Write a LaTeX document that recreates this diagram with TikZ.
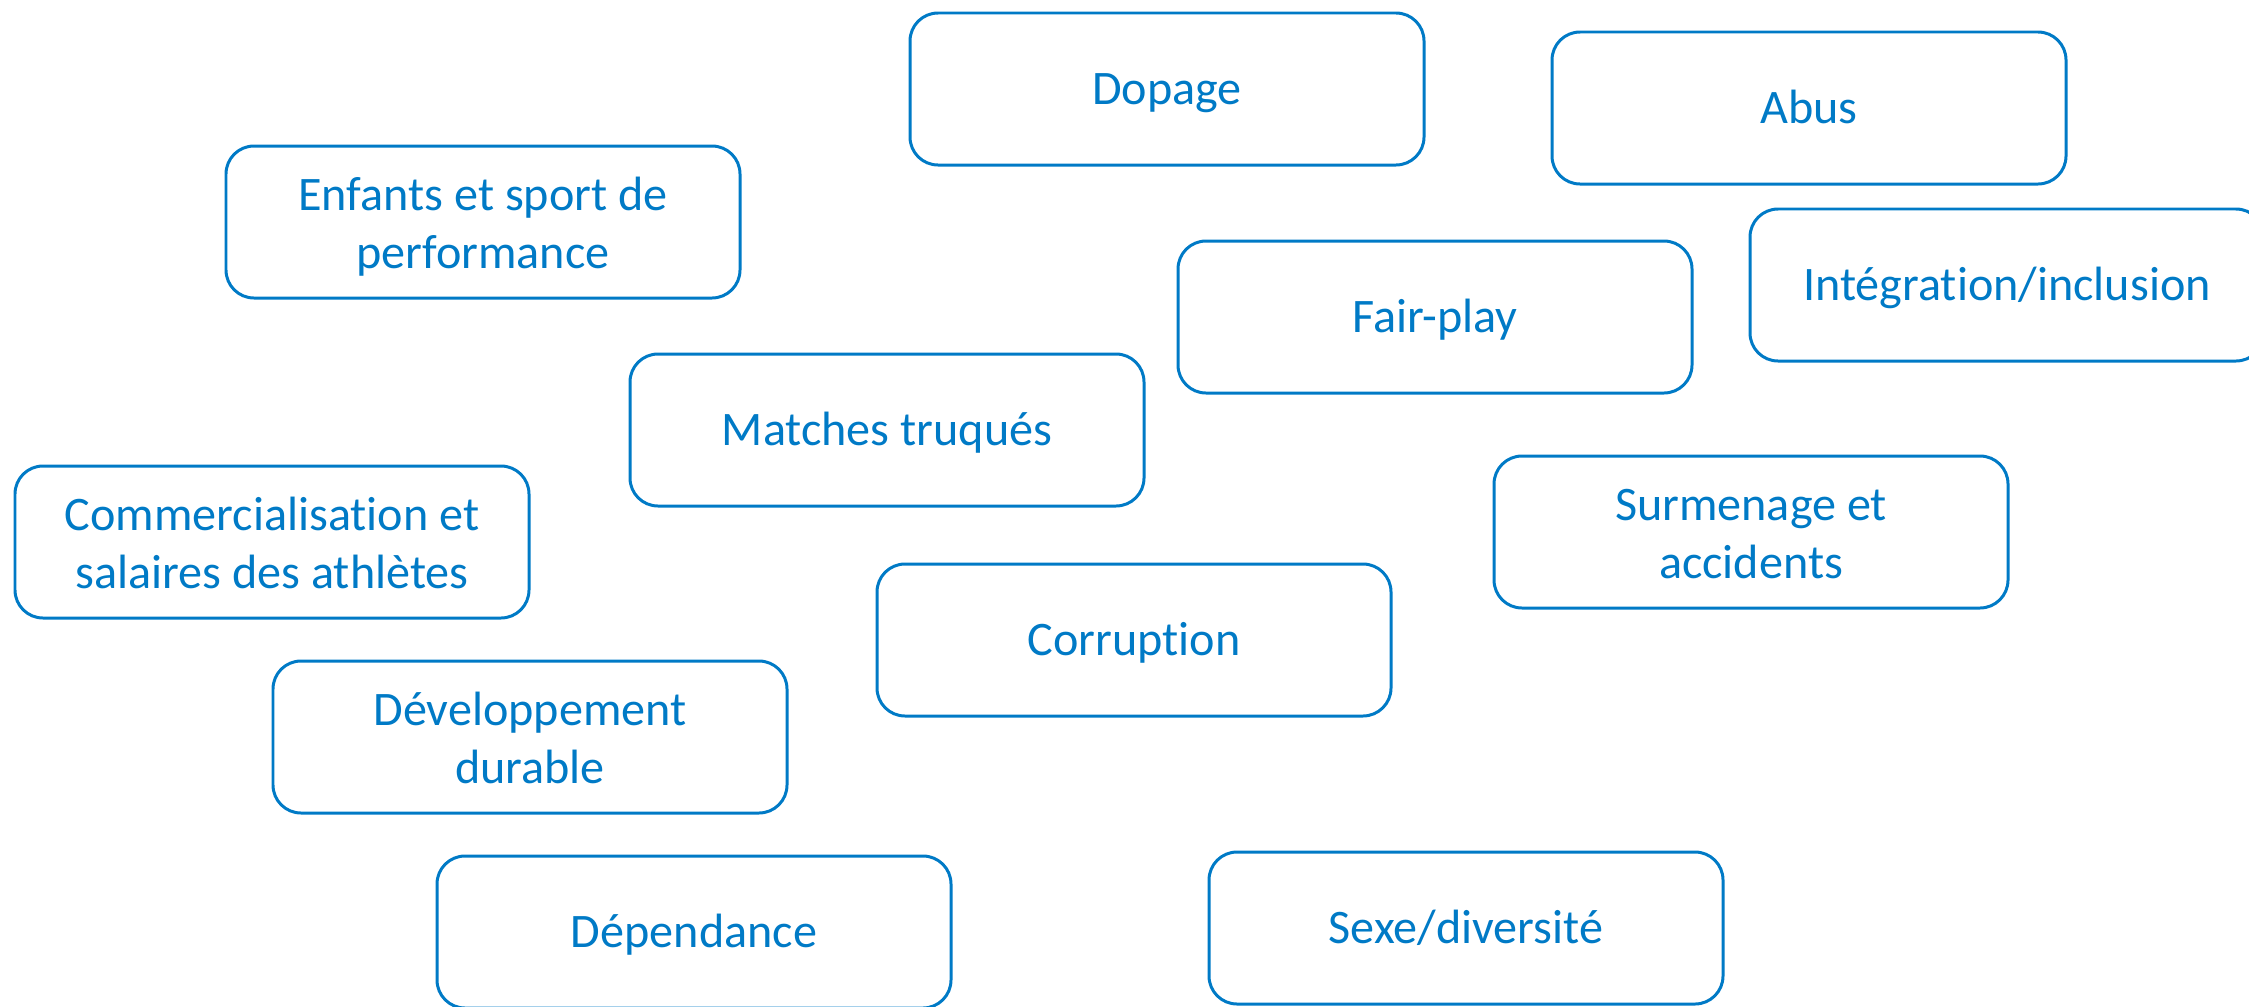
\documentclass[tikz,border=0pt]{standalone}
\usepackage{fontspec}
\setmainfont{Carlito}[Ligatures=NoCommon]
\definecolor{themeblue}{RGB}{0,122,198}
\newcommand{\topstrut}{\rule{0pt}{13pt}}
\newcommand{\tallstrut}{\rule{0pt}{14pt}}
\newcommand{\botstrut}{\rule[-4pt]{0pt}{4pt}}
\begin{document}
\begin{tikzpicture}[
    topic/.style={draw=themeblue, line width=0.85pt, rounded corners=0.28cm,
      minimum width=5.14cm, minimum height=1.52cm, inner ysep=0pt, align=center,
      text=themeblue, font=\fontsize{13.7}{16.5}\selectfont,
      execute at begin node=\topstrut, execute at end node=\botstrut}
  ]
  \clip (0,0) rectangle (22.49,10.06);
  \node [topic] (dopage) at (11.67,9.17) {Dopage};
  \node [topic] (abus) at (18.09,8.98) {Abus};
  \node [topic] (enfants) at (4.83,7.84) {\tallstrut Enfants et sport de\\performance};
  \node [topic] (fairplay) at (14.35,6.89) {Fair-play};
  \node [topic] (integration) at (20.07,7.21) {Intégration/inclusion};
  \node [topic] (matches) at (8.87,5.76) {Matches truqués};
  \node [topic] (commerce) at (2.72,4.64) {\tallstrut Commercialisation et\\salaires des athlètes};
  \node [topic] (surmenage) at (17.51,4.74) {\tallstrut Surmenage et\\accidents};
  \node [topic] (corruption) at (11.34,3.66) {Corruption};
  \node [topic] (durable) at (5.30,2.69) {\tallstrut Développement\\durable};
  \node [topic] (dependance) at (6.94,0.74) {Dépendance};
  \node [topic] (sexe) at (14.66,0.78) {Sexe/diversité};
\end{tikzpicture}
\end{document}
